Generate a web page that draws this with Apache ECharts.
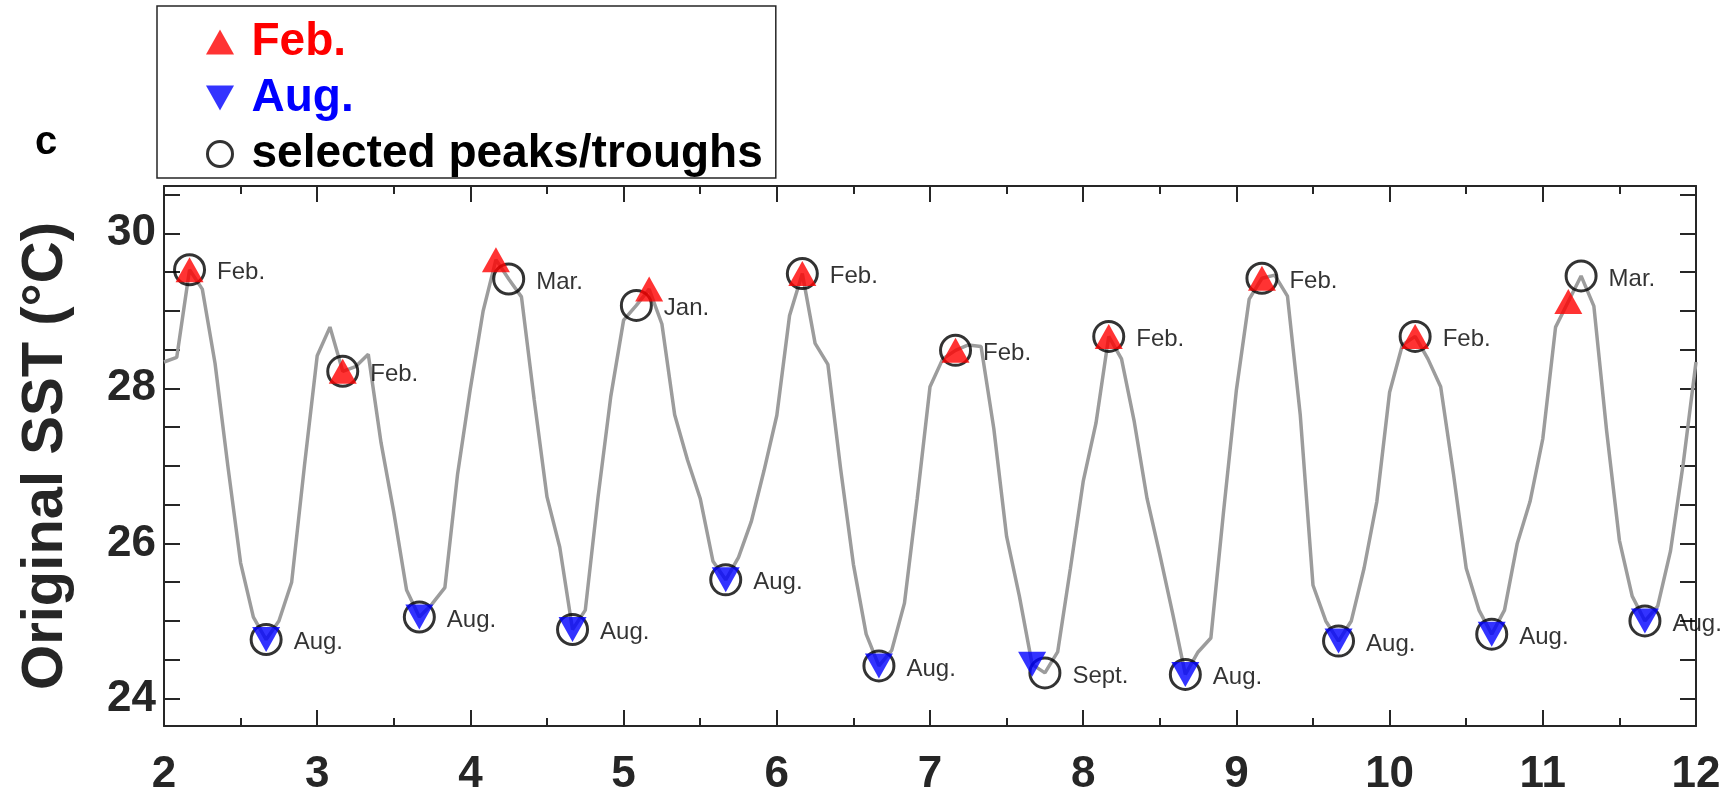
<!DOCTYPE html>
<html><head><meta charset="utf-8">
<script src="https://cdn.jsdelivr.net/npm/echarts@6/dist/echarts.min.js"></script>
<style>html,body{margin:0;padding:0;background:#fff}#c{width:1733px;height:799px}</style>
</head><body><div id="c"></div>
<script>
// ---- data (monthly SST, x = startYear + monthIndex/12) ----
const startYear = 2;
const sst = [
  28.34, 28.40, 29.53, 29.28, 28.32, 27.00, 25.75, 25.05, 24.76, 25.00, 25.50, 27.00,
  28.42, 28.79, 28.22, 28.28, 28.44, 27.30, 26.40, 25.40, 25.05, 25.22, 25.43, 26.90,
  28.00, 29.00, 29.66, 29.41, 29.18, 27.85, 26.60, 25.95, 24.89, 25.14, 26.60, 27.90,
  28.88, 29.07, 29.28, 28.83, 27.66, 27.08, 26.58, 25.77, 25.53, 25.82, 26.28, 26.94,
  27.65, 28.94, 29.48, 28.58, 28.31, 26.96, 25.73, 24.83, 24.42, 24.62, 25.23, 26.58,
  28.02, 28.38, 28.49, 28.56, 28.54, 27.48, 26.09, 25.32, 24.44, 24.33, 24.60, 25.68,
  26.80, 27.55, 28.67, 28.38, 27.57, 26.58, 25.86, 25.10, 24.31, 24.60, 24.78, 26.42,
  27.98, 29.15, 29.42, 29.46, 29.19, 27.66, 25.46, 25.00, 24.74, 25.00, 25.68, 26.54,
  27.95, 28.56, 28.67, 28.38, 28.02, 26.90, 25.68, 25.14, 24.83, 25.14, 26.00, 26.54,
  27.35, 28.79, 29.12, 29.45, 29.06, 27.45, 26.04, 25.32, 25.00, 25.19, 25.90, 27.03,
  28.34
];
const febIdx = [2, 14, 26, 38, 50, 62, 74, 86, 98, 110];
const augIdx = [8, 20, 32, 44, 56, 68, 80, 92, 104, 116];
const peakIdx = [2, 8, 14, 20, 27, 32, 37, 44, 50, 56, 62, 69, 74, 80, 86, 92, 98, 104, 111, 116];
const peakLabels = ['Feb.', 'Aug.', 'Feb.', 'Aug.', 'Mar.', 'Aug.', 'Jan.', 'Aug.', 'Feb.', 'Aug.',
                    'Feb.', 'Sept.', 'Feb.', 'Aug.', 'Feb.', 'Aug.', 'Feb.', 'Aug.', 'Mar.', 'Aug.'];
const yLabelValues = [24, 26, 28, 30];
const yTickValues = [24, 24.5, 25, 25.5, 26, 26.5, 27, 27.5, 28, 28.5, 29, 29.5, 30, 30.5];
const xMin = 2, xMax = 12, yMin = 23.645, yMax = 30.61;
const legendNames = ['Feb.', 'Aug.', 'selected peaks/troughs'];

// ---- build ----
const FONT = '"Liberation Sans", Arial, Helvetica, sans-serif';
const AX = '#262626';
const t = i => startYear + i / 12;
const lineData = sst.map((v, i) => [t(i), v]);
const febData = febIdx.map(i => [t(i), sst[i]]);
const augData = augIdx.map(i => [t(i), sst[i]]);
const peakData = peakIdx.map((i, k) => ({ value: [t(i), sst[i]], name: peakLabels[k] }));

const tickCommon = { inside: true, length: 16, lineStyle: { color: AX, width: 2 } };
const minorCommon = { show: true, splitNumber: 2, length: 8, lineStyle: { color: AX, width: 2 } };
const lineCommon = { show: true, onZero: false, lineStyle: { color: AX, width: 2 } };

const chart = echarts.init(document.getElementById('c'), null, { renderer: 'canvas' });
chart.setOption({
  animation: false,
  backgroundColor: '#fff',
  grid: { left: 164, right: 37, top: 186, bottom: 73, containLabel: false },
  xAxis: [
    { type: 'value', min: xMin, max: xMax, interval: 1, position: 'bottom',
      axisLine: lineCommon, axisTick: tickCommon, minorTick: minorCommon,
      splitLine: { show: false }, minorSplitLine: { show: false },
      axisLabel: { fontSize: 44, fontWeight: 'bold', color: AX, margin: 27, fontFamily: FONT } },
    { type: 'value', min: xMin, max: xMax, interval: 1, position: 'top',
      axisLine: lineCommon, axisTick: tickCommon, minorTick: minorCommon,
      splitLine: { show: false }, minorSplitLine: { show: false },
      axisLabel: { show: false } }
  ],
  yAxis: [
    { type: 'value', min: yMin, max: yMax, position: 'left',
      axisLine: lineCommon,
      axisTick: Object.assign({ customValues: yTickValues }, tickCommon),
      axisLabel: { customValues: yLabelValues, fontSize: 44, fontWeight: 'bold', color: AX, margin: 8, fontFamily: FONT },
      splitLine: { show: false },
      name: 'Original SST (°C)', nameLocation: 'middle', nameRotate: 90, nameGap: 89,
      nameTextStyle: { fontSize: 58, fontWeight: 'bold', color: AX, fontFamily: FONT } },
    { type: 'value', min: yMin, max: yMax, position: 'right',
      axisLine: lineCommon,
      axisTick: Object.assign({ customValues: yTickValues }, tickCommon),
      axisLabel: { show: false }, splitLine: { show: false } }
  ],
  legend: {
    orient: 'vertical', left: 157, top: 6,
    padding: [13, 13, 1, 49], itemGap: 10, itemWidth: 53, itemHeight: 25,
    borderColor: AX, borderWidth: 1.5, selectedMode: false, symbolKeepAspect: true,
    textStyle: { fontSize: 46, fontWeight: 'bold', fontFamily: FONT },
    data: [
      { name: legendNames[0], icon: 'path://M14,0 L28,25 L0,25 Z', itemStyle: { color: '#ff0000' }, textStyle: { color: '#ff0000' } },
      { name: legendNames[1], icon: 'path://M0,0 L28,0 L14,25 Z', itemStyle: { color: '#0000ff' }, textStyle: { color: '#0000ff' } },
      { name: legendNames[2], icon: 'circle', itemStyle: { color: 'rgba(0,0,0,0)', borderColor: '#000', borderWidth: 3 }, textStyle: { color: '#000' } }
    ]
  },
  graphic: [
    { type: 'text', left: 35, top: 123, style: { text: 'c', font: 'bold 40px ' + FONT, fill: '#000' } }
  ],
  series: [
    { type: 'line', name: 'sst', data: lineData, showSymbol: false, silent: true, z: 2,
      lineStyle: { color: '#9c9c9c', width: 3.5 } },
    { type: 'scatter', name: legendNames[2], data: peakData, symbol: 'circle', symbolSize: 30, z: 3,
      itemStyle: { color: 'rgba(0,0,0,0)', borderColor: '#000', borderWidth: 3 },
      label: { show: true, position: 'right', distance: 11, offset: [0, 3], formatter: p => p.name,
               fontSize: 24, color: '#000', fontFamily: FONT } },
    { type: 'scatter', name: legendNames[0], data: febData, symbol: 'triangle', symbolSize: [28, 25], z: 4,
      itemStyle: { color: '#ff0000' } },
    { type: 'scatter', name: legendNames[1], data: augData, symbol: 'triangle', symbolRotate: 180, symbolSize: [28, 25], z: 4,
      itemStyle: { color: '#0000ff' } }
  ]
});
</script></body></html>
